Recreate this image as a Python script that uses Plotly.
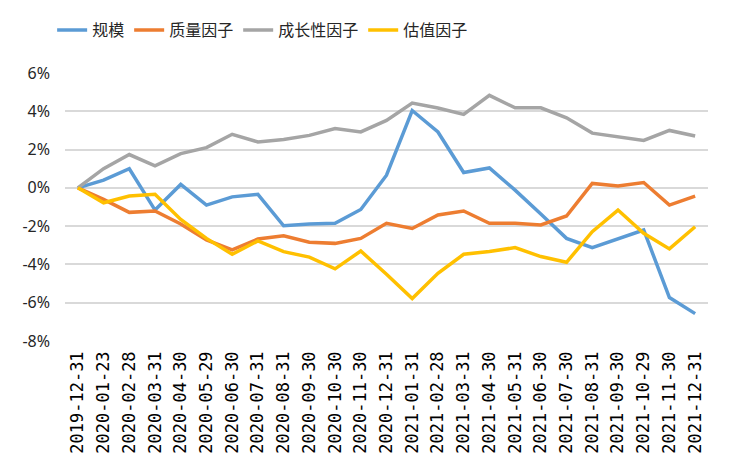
import plotly.graph_objects as go

dates = ["2019-12-31", "2020-01-23", "2020-02-28", "2020-03-31", "2020-04-30", "2020-05-29",
         "2020-06-30", "2020-07-31", "2020-08-31", "2020-09-30", "2020-10-30", "2020-11-30",
         "2020-12-31", "2021-01-31", "2021-02-28", "2021-03-31", "2021-04-30", "2021-05-31",
         "2021-06-30", "2021-07-30", "2021-08-31", "2021-09-30", "2021-10-29", "2021-11-30",
         "2021-12-31"]

size_factor = [0.0, 0.40, 1.00, -1.16, 0.18, -0.90, -0.47, -0.34, -1.98, -1.89, -1.85, -1.13,
               0.66, 4.04, 2.92, 0.80, 1.04, -0.12, -1.37, -2.64, -3.12, -2.64, -2.20, -5.73, -6.57]
quality_factor = [0.0, -0.60, -1.28, -1.21, -1.89, -2.72, -3.24, -2.67, -2.50, -2.84, -2.90, -2.64,
                  -1.85, -2.12, -1.42, -1.21, -1.85, -1.85, -1.94, -1.47, 0.23, 0.10, 0.28, -0.90, -0.43]
growth_factor = [0.0, 1.00, 1.74, 1.15, 1.79, 2.10, 2.80, 2.40, 2.53, 2.74, 3.10, 2.92,
                 3.52, 4.43, 4.17, 3.84, 4.83, 4.18, 4.18, 3.66, 2.86, 2.69, 2.48, 3.00, 2.71]
value_factor = [0.0, -0.78, -0.43, -0.34, -1.65, -2.64, -3.47, -2.77, -3.33, -3.62, -4.23, -3.30,
                -4.51, -5.78, -4.46, -3.47, -3.33, -3.12, -3.59, -3.89, -2.29, -1.16, -2.37, -3.19, -2.03]

series = [
    ("规模", size_factor, "#5B9BD5"),
    ("质量因子", quality_factor, "#ED7D31"),
    ("成长性因子", growth_factor, "#A5A5A5"),
    ("估值因子", value_factor, "#FFC000"),
]

y_ticks = [-8, -6, -4, -2, 0, 2, 4, 6]
y_tick_text = [f"{v}%" for v in y_ticks]

fig = go.Figure()
for name, vals, color in series:
    fig.add_trace(go.Scatter(x=dates, y=vals, name=name, mode="lines",
                             line=dict(color=color, width=3.5)))

fig.update_layout(
    width=731, height=466,
    margin=dict(l=65, r=23, t=73, b=125),
    paper_bgcolor="white", plot_bgcolor="white",
    showlegend=True,
    legend=dict(orientation="h", x=-0.02, xanchor="left", y=1.16, yanchor="middle",
                font=dict(family="Noto Sans CJK SC", size=16, color="#262626"),
                itemwidth=30, tracegroupgap=0),
    font=dict(family="Noto Sans", color="#262626"),
)
fig.update_xaxes(type="category", range=[-0.5, 24.5], tickangle=-90, showgrid=False,
                 showline=False, zeroline=False, ticks="",
                 tickfont=dict(family="DejaVu Sans Mono", size=17, color="#000000"),
                 ticklabelstandoff=6)
fig.update_yaxes(range=[-8, 6], tickvals=y_ticks, ticktext=y_tick_text, showgrid=True,
                 gridcolor="#D9D9D9", gridwidth=1.5, zeroline=False, showline=False, ticks="",
                 tickfont=dict(family="Noto Sans", size=16, color="#262626"),
                 ticklabelstandoff=14)

fig.write_html("out.html", config={"displayModeBar": False},
               post_script="document.body.style.margin='0';")
